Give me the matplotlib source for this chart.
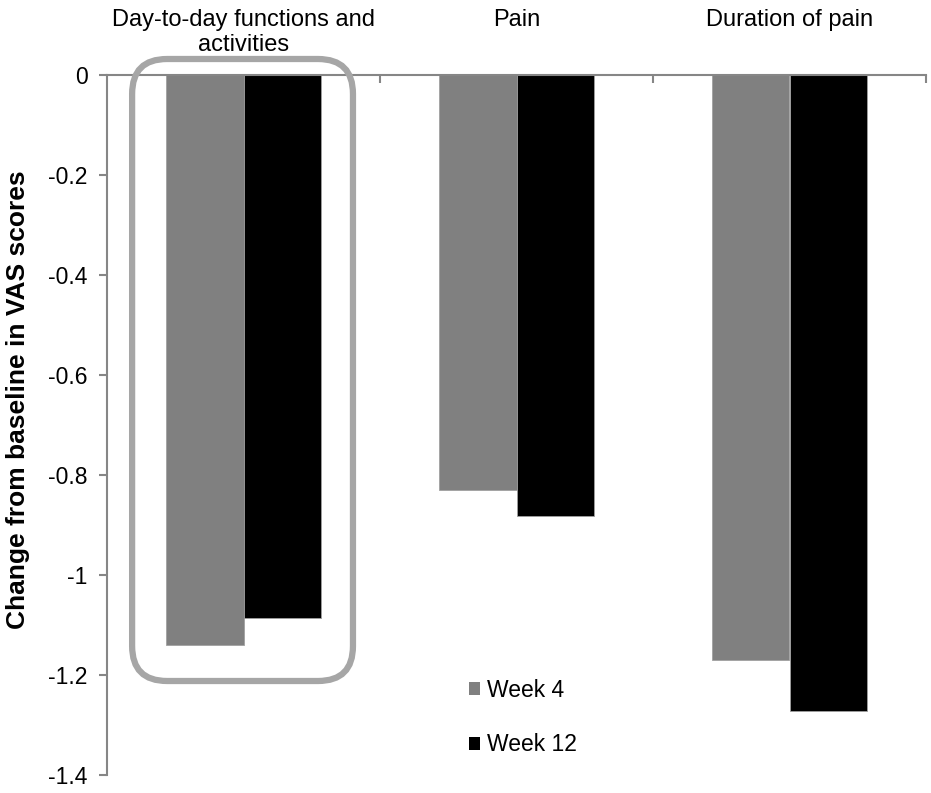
import matplotlib
matplotlib.use("Agg")
import matplotlib.pyplot as plt
from matplotlib.patches import FancyBboxPatch, Patch
import matplotlib.transforms as mtransforms
import numpy as np

plt.rcParams['font.family'] = ['Liberation Sans', 'DejaVu Sans']

categories = ["Day-to-day functions and\nactivities", "Pain", "Duration of pain"]
series_names = ["Week 4", "Week 12"]
week4 = [-1.14, -0.83, -1.17]
week12 = [-1.086, -0.882, -1.272]
colors = ["#808080", "#000000"]
yticks = [0, -0.2, -0.4, -0.6, -0.8, -1, -1.2, -1.4]
ytick_labels = ["0", "-0.2", "-0.4", "-0.6", "-0.8", "-1", "-1.2", "-1.4"]

fig = plt.figure(figsize=(9.31, 7.93), dpi=100)
ax = fig.add_axes([107/931, 1-775/793, 819/931, 700/793])

x = np.arange(len(categories))
w = 0.285
ax.bar(x - w/2, week4, w, color=colors[0], edgecolor="#a0a0a0", linewidth=0.6, label=series_names[0])
ax.bar(x + w/2, week12, w, color=colors[1], edgecolor="#a0a0a0", linewidth=0.6, label=series_names[1])

ax.set_xlim(-0.5, 2.5)
ax.set_ylim(-1.4, 0)
ax.set_yticks(yticks)
ax.set_yticklabels(ytick_labels, fontsize=16.5)
ax.tick_params(axis='y', direction='out', length=6, width=1.5, color="#868686", pad=8)

ax.xaxis.set_ticks_position('top')
ax.set_xticks([0.5, 1.5, 2.5])
ax.set_xticklabels([])
ax.tick_params(axis='x', direction='in', length=6, width=1.5, color="#868686")

for s in ['right', 'bottom']:
    ax.spines[s].set_visible(False)
for s in ['left', 'top']:
    ax.spines[s].set_color("#868686")
    ax.spines[s].set_linewidth(1.5)

trans = mtransforms.blended_transform_factory(ax.transData, fig.transFigure)
for xi, lab in zip(x, categories):
    ax.text(xi, 1 - 9/793, lab, transform=trans, ha='center', va='top', fontsize=17, linespacing=1.16)

ax.set_ylabel("Change from baseline in VAS scores", fontsize=19, fontweight='bold')
ax.yaxis.set_label_coords((30 - 107) / 819, (775 - 400) / 700)

# rounded highlight box (pixel-based estimates converted to data units)
bx0, bx1 = -0.408, 0.401
by0, by1 = -1.212, 0.032
r = 0.128
box = FancyBboxPatch((bx0, by0), bx1 - bx0, by1 - by0,
                     boxstyle=f"round,pad=0,rounding_size={r}",
                     mutation_aspect=0.547,
                     fill=False, edgecolor="#a6a6a6", linewidth=4.5, clip_on=False, zorder=5)
ax.add_patch(box)

handles = [Patch(facecolor=colors[0], edgecolor='none'), Patch(facecolor=colors[1], edgecolor='none')]
leg = ax.legend(handles, series_names, loc='center left', bbox_to_anchor=(0.442, 0.082),
                frameon=False, fontsize=16.5, handlelength=0.5, handleheight=0.5,
                handletextpad=0.3, labelspacing=1.38, borderpad=0, borderaxespad=0)

fig.savefig("out.png", dpi=100)
